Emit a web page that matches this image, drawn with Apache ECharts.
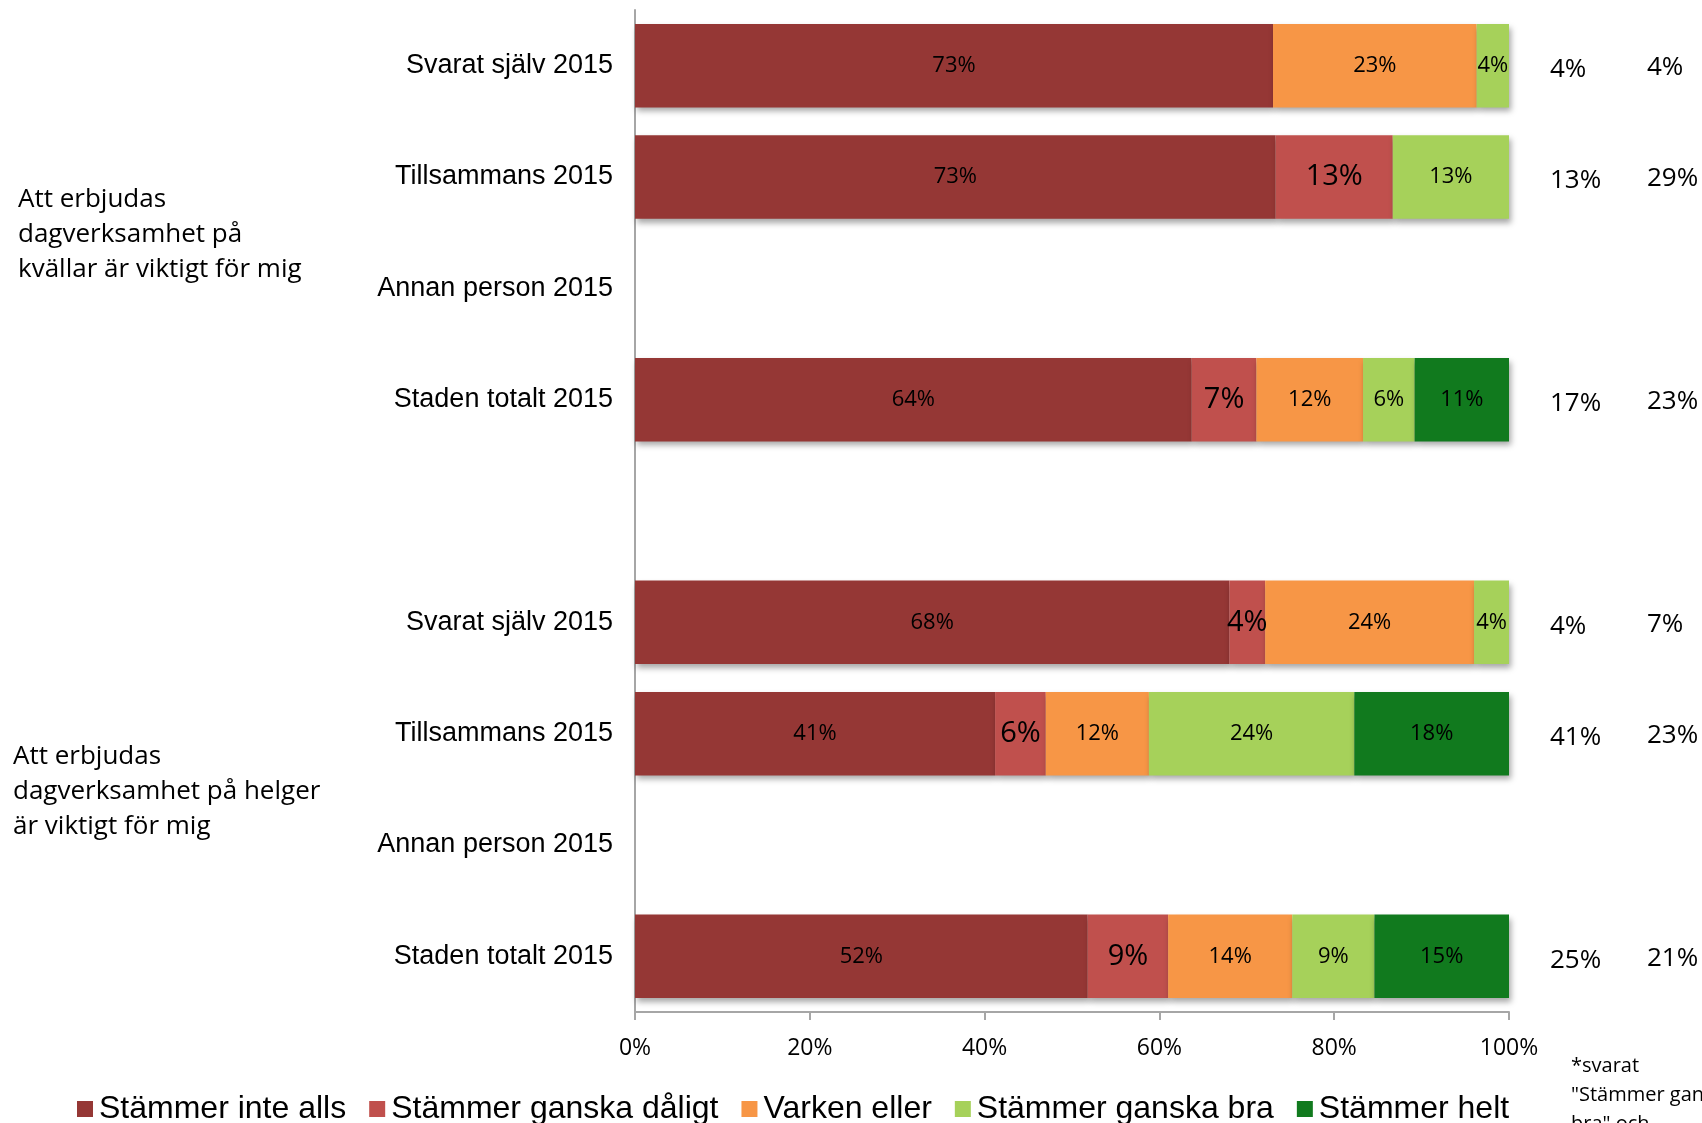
<!DOCTYPE html>
<html>
<head>
<meta charset="utf-8">
<script src="https://cdn.jsdelivr.net/npm/echarts@6/dist/echarts.min.js"></script>
<style>
	html, body { margin: 0; padding: 0; background: #fff; }
	#main { width: 1702px; height: 1123px; }
</style>
</head>
<body>
<div id="main"></div>
<script>
// kategorier (tom rad = mellanrum mellan grupperna)
var categories = ['Svarat själv 2015', 'Tillsammans 2015', 'Annan person 2015', 'Staden totalt 2015', '',
	'Svarat själv 2015', 'Tillsammans 2015', 'Annan person 2015', 'Staden totalt 2015'];

var seriesNames = ['Stämmer inte alls', 'Stämmer ganska dåligt', 'Varken eller', 'Stämmer ganska bra', 'Stämmer helt'];
var colors = ['#953735', '#C0504D', '#F79646', '#A6D15A', '#117A1E'];

// andelar i procent
var inteAlls = [73.0, 73.3, null, 63.7, null, 68.0, 41.2, null, 51.8];
var ganskaDaligt = [null, 13.4, null, 7.4, null, 4.1, 5.8, null, 9.2];
var varkenEller = [23.3, null, null, 12.2, null, 23.9, 11.8, null, 14.2];
var ganskaBra = [3.7, 13.3, null, 5.9, null, 4.0, 23.5, null, 9.4];
var helt = [null, null, null, 10.8, null, null, 17.7, null, 15.4];

// kolumnerna till höger
var colA = ['4%', '13%', '', '17%', '', '4%', '41%', '', '25%'];
var colB = ['4%', '29%', '', '23%', '', '7%', '23%', '', '21%'];

var groupTexts = ['Att erbjudas\ndagverksamhet på\nkvällar är viktigt för mig',
	'Att erbjudas\ndagverksamhet på helger\när viktigt för mig'];
var footnote = '*svarat\n"Stämmer ganska\nbra" och';

var chart = echarts.init(document.getElementById('main'));

function makeSeries(name, data, idx) {
	return {
		name: name,
		type: 'bar',
		stack: 'total',
		barCategoryGap: '25%',
		data: data,
		itemStyle: {
			color: colors[idx],
			shadowColor: 'rgba(0,0,0,0.35)',
			shadowBlur: 6,
			shadowOffsetX: 2,
			shadowOffsetY: 4
		},
		label: {
			show: true,
			position: 'inside',
			color: '#000',
			fontFamily: 'Open Sans',
			fontSize: idx == 1 ? 29 : 22,
			formatter: function(p) {
				return Math.round(p.value) + '%';
			}
		},
		emphasis: { disabled: true }
	};
}

var option = {
	animation: false,
	color: colors,
	grid: {
		left: 635,
		right: 193,
		top: 10,
		bottom: 111
	},
	legend: {
		left: 72,
		top: 1088,
		itemWidth: 16,
		itemHeight: 16,
		itemGap: 23,
		icon: 'rect',
		textStyle: {
			fontFamily: 'Liberation Sans',
			fontSize: 32,
			color: '#000',
			padding: [0, 0, 0, 1]
		},
		data: seriesNames
	},
	xAxis: {
		type: 'value',
		min: 0,
		max: 100,
		interval: 20,
		axisLine: { show: true, lineStyle: { color: '#a6a6a6', width: 2 } },
		axisTick: { show: true, length: 8, lineStyle: { color: '#a6a6a6', width: 2 } },
		splitLine: { show: false },
		axisLabel: {
			formatter: '{value}%',
			fontFamily: 'Open Sans',
			fontSize: 23,
			color: '#000',
			margin: 25
		}
	},
	yAxis: {
		type: 'category',
		inverse: true,
		data: categories,
		axisLine: { show: true, lineStyle: { color: '#a6a6a6', width: 2 } },
		axisTick: { show: false },
		axisLabel: {
			fontFamily: 'Liberation Sans',
			fontSize: 27,
			color: '#000',
			margin: 22,
			padding: [4, 0, 0, 0]
		}
	},
	series: [
		makeSeries(seriesNames[0], inteAlls, 0),
		makeSeries(seriesNames[1], ganskaDaligt, 1),
		makeSeries(seriesNames[2], varkenEller, 2),
		makeSeries(seriesNames[3], ganskaBra, 3),
		makeSeries(seriesNames[4], helt, 4)
	]
};

chart.setOption(option);

// texter utanför diagrammet
var graphics = [];
for (var i = 0; i < categories.length; i++) {
	var y = chart.convertToPixel({ yAxisIndex: 0 }, i);
	if (colA[i]) {
		graphics.push({
			type: 'text', x: 1550, y: y + 4,
			style: { text: colA[i], fontFamily: 'Open Sans', fontSize: 26, fill: '#000', align: 'left', verticalAlign: 'middle' }
		});
	}
	if (colB[i]) {
		graphics.push({
			type: 'text', x: 1647, y: y + 2,
			style: { text: colB[i], fontFamily: 'Open Sans', fontSize: 26, fill: '#000', align: 'left', verticalAlign: 'middle' }
		});
	}
}
graphics.push({
	type: 'text', x: 18, y: 182,
	style: { text: groupTexts[0], fontFamily: 'Open Sans', fontSize: 26, lineHeight: 35, fill: '#000' }
});
graphics.push({
	type: 'text', x: 13, y: 739,
	style: { text: groupTexts[1], fontFamily: 'Open Sans', fontSize: 26, lineHeight: 35, fill: '#000' }
});
graphics.push({
	type: 'text', x: 1571, y: 1052,
	style: { text: footnote, fontFamily: 'Open Sans', fontSize: 20, lineHeight: 29, fill: '#000' }
});

chart.setOption({ graphic: graphics });
</script>
</body>
</html>
